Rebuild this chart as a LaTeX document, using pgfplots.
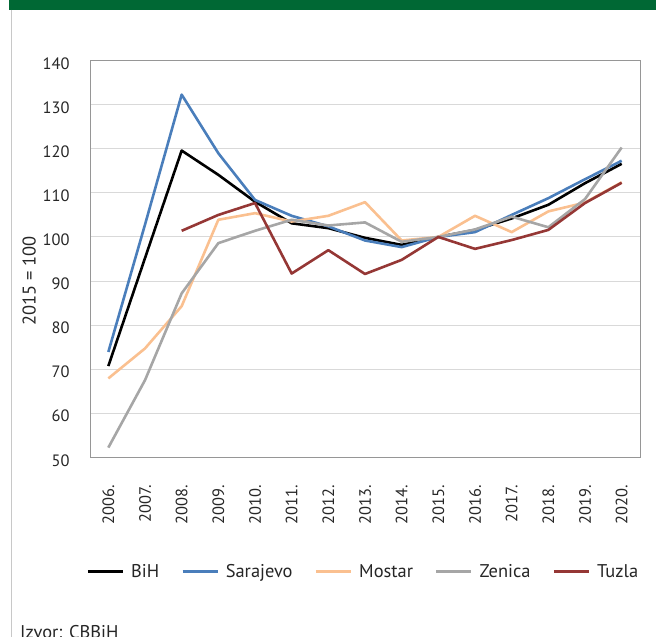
\documentclass[border=0pt]{standalone}
\usepackage{pgfplots}
\pgfplotsset{compat=1.18}
\usepackage{fontspec}
\setmainfont{PT Sans}
\definecolor{bandgreen}{RGB}{0,104,52}
\definecolor{cblue}{RGB}{74,126,187}
\definecolor{corange}{RGB}{250,192,144}
\definecolor{cgrey}{RGB}{166,166,166}
\definecolor{cred}{RGB}{149,55,53}
\definecolor{gridc}{RGB}{217,217,217}
\definecolor{axc}{RGB}{150,150,150}
\newcommand{\f}{\fontsize{16.5}{19}\selectfont}
\newcommand{\g}{\fontsize{18.5}{22}\selectfont}
\begin{document}
\begin{tikzpicture}[x=1bp,y=1bp]
\useasboundingbox (0,0) rectangle (656,637);
\fill[bandgreen] (9,627) rectangle (656,637);
\draw[color={rgb,255:red,200;green,200;blue,200}, line width=1bp] (11,627) -- (11,0);
\begin{axis}[
  at={(90bp,179.7bp)}, anchor=south west,
  scale only axis, width=550bp, height=396.6bp,
  xmin=-0.5, xmax=14.5, ymin=50, ymax=140,
  xtick={0,...,14},
  xticklabels={2006.,2007.,2008.,2009.,2010.,2011.,2012.,2013.,2014.,2015.,2016.,2017.,2018.,2019.,2020.},
  ytick={50,60,...,140},
  ymajorgrids, grid style={gridc, line width=1bp},
  major tick length=0pt,
  axis line style={axc, line width=1bp},
  /pgf/number format/assume math mode=true,
  every tick label/.append style={font=\f, text=black!85},
  yticklabel style={anchor=east, xshift=-17bp, yshift=-3bp},
  xticklabel style={rotate=90, anchor=east},
  xticklabel shift=24bp,
  ylabel={2015 = 100}, ylabel style={font=\g, text=black!85, at={(ticklabel cs:0.445)}},
  legend columns=5,
  legend style={at={(0.497,-0.2885)}, anchor=center, draw=none, font=\g, text=black!85,
    /tikz/every even column/.append style={column sep=20bp}},
  legend image code/.code={\draw[#1] (0bp,0bp) -- (35bp,0bp);},
  every axis plot/.append style={line width=2.6bp, line join=round},
]
\addplot[black] coordinates {(0,70.7)(1,95.2)(2,119.6)(3,114.1)(4,108.0)(5,103.1)(6,102.0)(7,99.8)(8,98.2)(9,100.0)(10,101.6)(11,104.2)(12,107.3)(13,112.2)(14,116.6)};
\addlegendentry{\hspace{5bp}BiH}
\addplot[cblue] coordinates {(0,73.9)(1,102.8)(2,132.3)(3,119.0)(4,108.4)(5,104.8)(6,102.4)(7,99.2)(8,97.7)(9,100.0)(10,101.1)(11,105.0)(12,108.8)(13,113.1)(14,117.3)};
\addlegendentry{\hspace{5bp}Sarajevo}
\addplot[corange] coordinates {(0,67.9)(1,74.7)(2,84.3)(3,103.9)(4,105.4)(5,103.5)(6,104.8)(7,107.9)(8,99.2)(9,100.0)(10,104.8)(11,101.1)(12,105.8)(13,107.8)(14,112.4)};
\addlegendentry{\hspace{5bp}Mostar}
\addplot[cgrey] coordinates {(0,52.2)(1,67.5)(2,87.2)(3,98.6)(4,101.4)(5,103.9)(6,102.6)(7,103.3)(8,98.9)(9,100.0)(10,101.7)(11,104.6)(12,102.2)(13,108.6)(14,120.3)};
\addlegendentry{\hspace{5bp}Zenica}
\addplot[cred] coordinates {(2,101.4)(3,105.0)(4,107.7)(5,91.7)(6,97.0)(7,91.6)(8,94.8)(9,100.0)(10,97.3)(11,99.3)(12,101.6)(13,107.7)(14,112.3)};
\addlegendentry{\hspace{5bp}Tuzla}
\end{axis}
\node[anchor=base west, font=\g, text=black!85, inner sep=0pt] at (20,-2) {Izvor: CBBiH};
\end{tikzpicture}
\end{document}
